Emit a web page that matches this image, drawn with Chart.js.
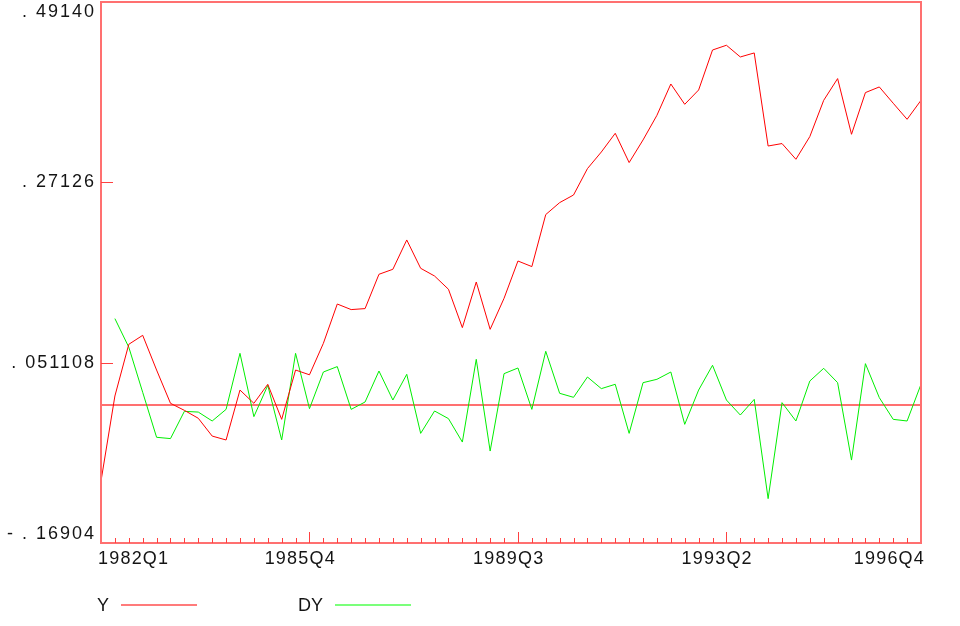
<!DOCTYPE html>
<html>
<head>
<meta charset="utf-8">
<script src="https://cdn.jsdelivr.net/npm/chart.js@4"></script>
<style>
  html, body { margin: 0; padding: 0; background: #fff; }
</style>
</head>
<body>
<canvas id="myChart" width="960" height="626"></canvas>
<script>
// quarterly categories 1982Q1 .. 1996Q4
const years = [1982, 1983, 1984, 1985, 1986, 1987, 1988, 1989, 1990, 1991, 1992, 1993, 1994, 1995, 1996];
const quarters = [];
years.forEach(y => [1, 2, 3, 4].forEach(q => quarters.push(y + 'Q' + q)));

const yValues = [
  -0.0934, 0.0104, 0.0735, 0.0845, 0.0421, 0.0015, -0.0071, -0.0168, -0.0385, -0.0433,
  0.0177, 0.0015, 0.0247, -0.0181, 0.0421, 0.0363, 0.0747, 0.1227, 0.1159, 0.1171,
  0.1590, 0.1651, 0.2009, 0.1663, 0.1569, 0.1407, 0.0939, 0.1496, 0.0918, 0.1297,
  0.1752, 0.1684, 0.2319, 0.2465, 0.2558, 0.2880, 0.3083, 0.3311, 0.2954, 0.3230,
  0.3531, 0.3913, 0.3665, 0.3840, 0.4328, 0.4386, 0.4243, 0.4292, 0.3156, 0.3186,
  0.2994, 0.3271, 0.3714, 0.3979, 0.3299, 0.3808, 0.3877, 0.3678, 0.3482, 0.3714
];

const dyValues = [
  null, 0.1049, 0.0700, 0.0149, -0.0400, -0.0416, -0.0083, -0.0092, -0.0201, -0.0059,
  0.0625, -0.0148, 0.0234, -0.0433, 0.0625, -0.0050, 0.0397, 0.0463, -0.0059, 0.0031,
  0.0409, 0.0055, 0.0369, -0.0352, -0.0079, -0.0172, -0.0458, 0.0552, -0.0568, 0.0377,
  0.0446, -0.0059, 0.0650, 0.0137, 0.0088, 0.0336, 0.0194, 0.0247, -0.0352, 0.0267,
  0.0308, 0.0397, -0.0242, 0.0177, 0.0479, 0.0055, -0.0128, 0.0063, -0.1149, 0.0023,
  -0.0201, 0.0287, 0.0442, 0.0267, -0.0678, 0.0499, 0.0084, -0.0181, -0.0201, 0.0247
];

const xTickLabels = ['1982Q1', '1985Q4', '1989Q3', '1993Q2', '1996Q4'];
const yTickValues = [-0.16904, 0.051108, 0.27126, 0.49140];
const yTickLabels = ['- . 16904', '. 051108', '. 27126', '. 49140'];

const axisColor = '#ff7070';
const textFont = '18px "Liberation Sans", Arial, sans-serif';

const framePlugin = {
  id: 'frame',
  beforeDatasetsDraw(chart) {
    const { ctx, chartArea: a, scales } = chart;
    const y0 = Math.round(scales.y.getPixelForValue(0));
    ctx.save();
    ctx.strokeStyle = axisColor;
    ctx.lineWidth = 2;
    ctx.beginPath();
    ctx.moveTo(a.left, y0);
    ctx.lineTo(a.right, y0);
    ctx.stroke();
    ctx.restore();
  },
  afterDraw(chart) {
    const { ctx, chartArea: a, scales } = chart;
    const xs = scales.x, ys = scales.y;
    ctx.save();

    // box
    ctx.strokeStyle = axisColor;
    ctx.lineWidth = 2;
    ctx.strokeRect(a.left, a.top, a.right - a.left, a.bottom - a.top);

    // x ticks, drawn inward
    ctx.lineWidth = 1;
    ctx.strokeStyle = '#ff4040';
    for (let i = 1; i < quarters.length - 1; i++) {
      const px = Math.round(xs.getPixelForValue(i)) + 0.5;
      const len = xTickLabels.includes(quarters[i]) ? 11 : 5;
      ctx.beginPath();
      ctx.moveTo(px, a.bottom);
      ctx.lineTo(px, a.bottom - len);
      ctx.stroke();
    }

    // y ticks
    yTickValues.forEach(v => {
      if (v === ys.min || v === ys.max) return;
      const py = Math.round(ys.getPixelForValue(v)) + 0.5;
      ctx.beginPath();
      ctx.moveTo(a.left, py);
      ctx.lineTo(a.left + 12, py);
      ctx.stroke();
    });

    ctx.fillStyle = '#141414';
    ctx.font = textFont;
    ctx.letterSpacing = '1.2px';
    ctx.textBaseline = 'middle';

    // x labels
    xTickLabels.forEach((lab, k) => {
      const px = xs.getPixelForValue(quarters.indexOf(lab));
      let tx;
      if (k === 0) tx = px - 3;
      else if (k === xTickLabels.length - 1) tx = px + 4 - ctx.measureText(lab).width;
      else tx = px - ctx.measureText(lab.slice(0, 4)).width;
      ctx.textAlign = 'left';
      ctx.fillText(lab, tx, a.bottom + 16);
    });

    // y labels
    ctx.letterSpacing = '2px';
    ctx.textAlign = 'right';
    yTickValues.forEach((v, k) => {
      let py = ys.getPixelForValue(v);
      py = Math.min(Math.max(py, a.top + 10), a.bottom - 9);
      ctx.fillText(yTickLabels[k], a.left - 5, py);
    });

    // legend: name then line sample
    ctx.letterSpacing = '0px';
    ctx.textAlign = 'left';
    chart.data.datasets.forEach((ds, i) => {
      const x0 = 97 + i * 201;
      const ly = 606;
      ctx.fillStyle = '#141414';
      ctx.fillText(ds.label, x0, ly);
      const w = ctx.measureText(ds.label).width;
      ctx.strokeStyle = ds.legendColor;
      ctx.lineWidth = 2;
      ctx.beginPath();
      ctx.moveTo(x0 + w + 12, ly - 1);
      ctx.lineTo(x0 + w + 88, ly - 1);
      ctx.stroke();
    });

    ctx.restore();
  }
};

const ctx = document.getElementById('myChart').getContext('2d');
const myChart = new Chart(ctx, {
  type: 'line',
  data: {
    labels: quarters,
    datasets: [
      {
        label: 'Y',
        data: yValues,
        borderColor: '#ff0000',
        legendColor: '#ff7b7b',
        borderWidth: 1,
        fill: false,
      },
      {
        label: 'DY',
        data: dyValues,
        borderColor: '#00ee00',
        legendColor: '#7bff7b',
        borderWidth: 1,
        fill: false,
      },
    ],
  },
  options: {
    responsive: false,
    animation: false,
    devicePixelRatio: 1,
    layout: { padding: { left: 101, right: 39, top: 2, bottom: 83 } },
    elements: { point: { radius: 0 }, line: { tension: 0 } },
    plugins: { legend: { display: false }, tooltip: { enabled: false } },
    scales: {
      x: { type: 'category', display: false, offset: false },
      y: { display: false, min: -0.16904, max: 0.49140 },
    },
  },
  plugins: [framePlugin],
});
</script>
</body>
</html>
